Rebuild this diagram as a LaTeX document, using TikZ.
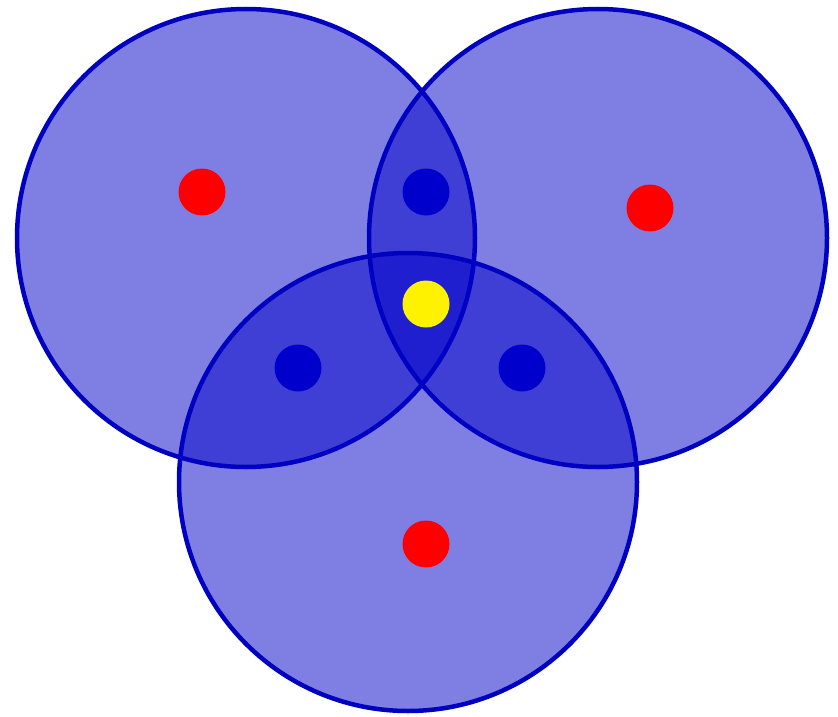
\documentclass[tikz,border=0pt]{standalone}
\begin{document}
\begin{tikzpicture}[x=1pt,y=-1pt,
  disc/.style={circle,draw=ringc,line width=4.5pt,fill=fillc,fill opacity=0.5,draw opacity=1,minimum size=458pt,inner sep=0pt},
  dot/.style={circle,minimum size=47pt,inner sep=0pt}]
\definecolor{ringc}{RGB}{0,0,192}
\definecolor{fillc}{RGB}{0,0,200}
\definecolor{dotb}{RGB}{0,0,204}
\useasboundingbox (0,0) rectangle (838,717);
\node[disc] (c1) at (246,238) {};
\node[disc] (c2) at (598,238) {};
\node[disc] (c3) at (408,482) {};
\node[dot,fill=red] (r1) at (202,192) {};
\node[dot,fill=red] (r2) at (650,208) {};
\node[dot,fill=red] (r3) at (426,544) {};
\node[dot,fill=dotb] (b1) at (426,192) {};
\node[dot,fill=dotb] (b2) at (298,368) {};
\node[dot,fill=dotb] (b3) at (522,368) {};
\node[dot,fill=yellow] (y) at (426,304) {};
\end{tikzpicture}
\end{document}
